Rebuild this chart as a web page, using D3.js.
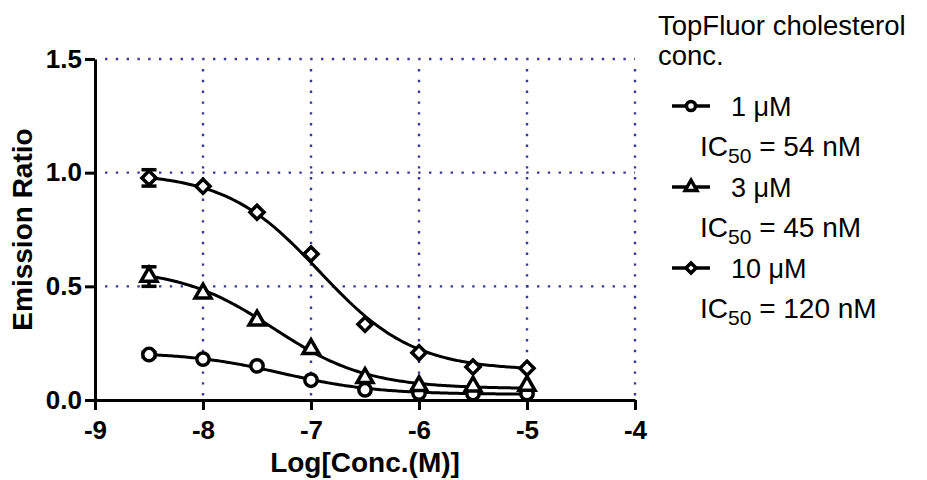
<!DOCTYPE html>
<html>
<head>
<meta charset="utf-8">
<script src="https://cdn.jsdelivr.net/npm/d3@7"></script>
<style>
  body { margin: 0; background: #fff; }
  text { font-family: "Liberation Sans", Arial, sans-serif; fill: #000; }
</style>
</head>
<body>
<svg id="chart" width="927" height="480"></svg>
<script>
// log concentration (M) of each measured point
var logConc = [-8.5, -8, -7.5, -7, -6.5, -6, -5.5, -5];

// emission ratio, one array per TopFluor conc.
var ratio1uM  = [0.200, 0.180, 0.150, 0.087, 0.045, 0.030, 0.028, 0.028];
var ratio3uM  = [0.543, 0.469, 0.350, 0.225, 0.097, 0.062, 0.060, 0.063];
var ratio10uM = [0.977, 0.940, 0.826, 0.642, 0.333, 0.208, 0.145, 0.140];

// error bars (only visible ones, at the first point)
var err1uM  = [0.01, 0, 0, 0, 0, 0, 0, 0];
var err3uM  = [0.043, 0, 0, 0, 0, 0, 0, 0];
var err10uM = [0.036, 0, 0, 0, 0, 0, 0, 0];

// fitted sigmoid parameters (IC50 from the legend)
var seriesNames = ["1 \u03BCM", "3 \u03BCM", "10 \u03BCM"];
var ic50nM      = [54, 45, 120];
var fitTop      = [0.21, 0.58, 1.00];
var fitBottom   = [0.025, 0.05, 0.13];
var fitHill     = [1, 1, 1];

var xTicks = [-9, -8, -7, -6, -5, -4];
var yTicks = [0, 0.5, 1.0, 1.5];
var xGrid  = [-8, -7, -6, -5, -4];
var yGrid  = [0.5, 1.0, 1.5];

var svg = d3.select("#chart");

var x = d3.scaleLinear().domain([-9, -4]).range([95, 635]);
var y = d3.scaleLinear().domain([0, 1.5]).range([400, 59]);

var gridColor = "#3a3a9c";

// dotted grid
svg.append("g").selectAll("line")
  .data(yGrid).enter().append("line")
  .attr("x1", x(-9) + 10).attr("x2", x(-4))
  .attr("y1", function(d) { return y(d); })
  .attr("y2", function(d) { return y(d); })
  .attr("stroke", gridColor).attr("stroke-width", 2.4)
  .attr("stroke-dasharray", "2.4 8.4");

svg.append("g").selectAll("line")
  .data(xGrid).enter().append("line")
  .attr("x1", function(d) { return x(d); })
  .attr("x2", function(d) { return x(d); })
  .attr("y1", y(1.5) + 10).attr("y2", y(0))
  .attr("stroke", gridColor).attr("stroke-width", 2.4)
  .attr("stroke-dasharray", "2.4 8.4");

// axes
var xAxis = d3.axisBottom(x).tickValues(xTicks).tickSize(10).tickSizeOuter(0)
  .tickPadding(11).tickFormat(function(d) { return String(d); });
var yAxis = d3.axisLeft(y).tickValues(yTicks).tickSize(10).tickSizeOuter(0)
  .tickPadding(3).tickFormat(d3.format(".1f"));

var gx = svg.append("g").attr("transform", "translate(0," + y(0) + ")").call(xAxis);
var gy = svg.append("g").attr("transform", "translate(" + x(-9) + ",0)").call(yAxis);

[gx, gy].forEach(function(g) {
  g.select(".domain").attr("stroke", "#000").attr("stroke-width", 3);
  g.selectAll(".tick line").attr("stroke", "#000").attr("stroke-width", 3);
  g.selectAll(".tick text")
    .style("font-family", "'Liberation Sans', Arial, sans-serif")
    .style("font-size", "26px").style("font-weight", "bold").attr("fill", "#000");
});

// axis titles
svg.append("text")
  .attr("x", (x(-9) + x(-4)) / 2).attr("y", 472)
  .attr("text-anchor", "middle")
  .style("font-size", "28px").style("font-weight", "bold")
  .text("Log[Conc.(M)]");

svg.append("text")
  .attr("transform", "translate(32," + ((y(0) + y(1.5)) / 2) + ") rotate(-90)")
  .attr("text-anchor", "middle")
  .style("font-size", "28px").style("font-weight", "bold")
  .text("Emission Ratio");

// fitted curves
var allRatios = [ratio1uM, ratio3uM, ratio10uM];
var allErrs = [err1uM, err3uM, err10uM];
var shapes = [d3.symbolCircle, d3.symbolTriangle, d3.symbolSquare];
var sizes = [120, 110, 100];
var rotations = [0, 0, 45];
var legendSizes = [64, 60, 52];

function fitValue(i, lx) {
  var logIC = Math.log10(ic50nM[i] * 1e-9);
  return fitBottom[i] + (fitTop[i] - fitBottom[i]) / (1 + Math.pow(10, (lx - logIC) * fitHill[i]));
}

var line = d3.line()
  .x(function(d) { return x(d[0]); })
  .y(function(d) { return y(d[1]); });

var xs = d3.range(logConc[0], logConc[logConc.length - 1] + 0.001, 0.02);

for (var i = 0; i < 3; i++) {
  (function(i) {
    var pts = xs.map(function(lx) { return [lx, fitValue(i, lx)]; });
    svg.append("path").datum(pts)
      .attr("d", line).attr("fill", "none")
      .attr("stroke", "#000").attr("stroke-width", 3);
  })(i);
}

// error bars and markers
for (var i = 0; i < 3; i++) {
  (function(i) {
    var pts = logConc.map(function(lx, k) { return { x: lx, v: allRatios[i][k], e: allErrs[i][k] }; });
    var g = svg.append("g");
    var eb = g.selectAll("g.eb").data(pts.filter(function(p) { return p.e > 0; }))
      .enter().append("g").attr("stroke", "#000").attr("stroke-width", 3.5);
    eb.append("line")
      .attr("x1", function(p) { return x(p.x); }).attr("x2", function(p) { return x(p.x); })
      .attr("y1", function(p) { return y(p.v + p.e); }).attr("y2", function(p) { return y(p.v - p.e); });
    eb.append("line")
      .attr("x1", function(p) { return x(p.x) - 7.5; }).attr("x2", function(p) { return x(p.x) + 7.5; })
      .attr("y1", function(p) { return y(p.v + p.e); }).attr("y2", function(p) { return y(p.v + p.e); });
    eb.append("line")
      .attr("x1", function(p) { return x(p.x) - 7.5; }).attr("x2", function(p) { return x(p.x) + 7.5; })
      .attr("y1", function(p) { return y(p.v - p.e); }).attr("y2", function(p) { return y(p.v - p.e); });

    g.selectAll("path.m").data(pts).enter().append("path")
      .attr("d", d3.symbol().type(shapes[i]).size(sizes[i]))
      .attr("transform", function(p) {
        return "translate(" + x(p.x) + "," + y(p.v) + ") rotate(" + rotations[i] + ")";
      })
      .attr("fill", "#fff").attr("stroke", "#000").attr("stroke-width", 3.5);
  })(i);
}

// legend
svg.append("text").attr("x", 658).attr("y", 35)
  .style("font-size", "27.5px").text("TopFluor cholesterol");
svg.append("text").attr("x", 658).attr("y", 65)
  .style("font-size", "27.5px").text("conc.");

var legendBase = [116, 197, 278];
for (var i = 0; i < 3; i++) {
  var by = legendBase[i];
  var cy = by - 10;
  svg.append("line").attr("x1", 672).attr("x2", 710).attr("y1", cy).attr("y2", cy)
    .attr("stroke", "#000").attr("stroke-width", 3.5);
  svg.append("path")
    .attr("d", d3.symbol().type(shapes[i]).size(legendSizes[i]))
    .attr("transform", "translate(691," + cy + ") rotate(" + rotations[i] + ")")
    .attr("fill", "#fff").attr("stroke", "#000").attr("stroke-width", 3.5);
  svg.append("text").attr("x", 731).attr("y", by)
    .style("font-size", "27px").text(seriesNames[i]);
  var t = svg.append("text").attr("x", 700).attr("y", by + 40).style("font-size", "28px");
  t.append("tspan").text("IC");
  t.append("tspan").attr("dy", 7).style("font-size", "21px").text("50");
  t.append("tspan").attr("dy", -7).text(" = " + ic50nM[i] + " nM");
}
</script>
</body>
</html>
